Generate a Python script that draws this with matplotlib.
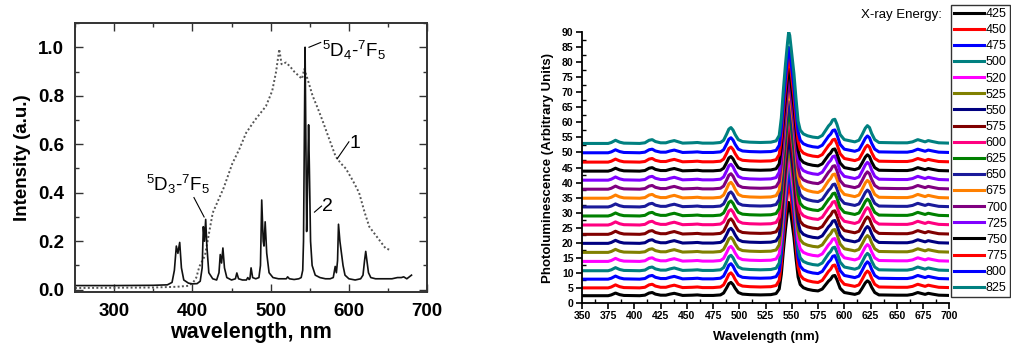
import matplotlib
matplotlib.use("Agg")
import matplotlib.pyplot as plt
import numpy as np
from matplotlib.ticker import MultipleLocator

plt.rcParams['font.family'] = ['Liberation Sans', 'DejaVu Sans']
plt.rcParams['mathtext.fontset'] = 'custom'
plt.rcParams['mathtext.rm'] = 'Liberation Sans'
plt.rcParams['mathtext.it'] = 'Liberation Sans'

# ---------------- Left panel data ----------------
wl_curve2 = [250, 300, 350, 368, 374, 377, 379.5, 381.5, 383.8, 386, 389, 395, 400, 406, 410, 412.5,
             414, 415.5, 417, 418.5, 421, 426, 431, 434, 435.6, 437.3, 439, 441, 444, 450, 455, 456.8,
             459, 464, 469, 470.8, 472.5, 473.5, 475, 477, 481, 485, 487, 488.6, 490.5, 491.5, 493,
             495, 498, 503, 510, 516, 520, 521.7, 524, 530, 536, 539, 541, 542, 543, 544, 546,
             547, 548.5, 549.5, 551, 553, 557, 563, 570, 576, 580, 582.5, 584, 585.5, 586.7, 588.5,
             590.5, 592.5, 595, 600, 608, 615, 618, 620, 621.5, 623, 625, 628, 634, 645, 655, 662,
             667, 670, 674, 680]
int_curve2 = [0.017, 0.017, 0.018, 0.02, 0.03, 0.08, 0.18, 0.15, 0.195, 0.09, 0.04, 0.027, 0.024, 0.025, 0.035, 0.09,
              0.26, 0.2, 0.29, 0.18, 0.07, 0.045, 0.04, 0.07, 0.145, 0.11, 0.172, 0.09, 0.05, 0.04, 0.045, 0.069,
              0.045, 0.04, 0.04, 0.05, 0.042, 0.045, 0.09, 0.05, 0.045, 0.05, 0.1, 0.37, 0.2, 0.18, 0.28,
              0.15, 0.07, 0.05, 0.045, 0.045, 0.045, 0.053, 0.045, 0.042, 0.045, 0.05, 0.08, 0.2, 0.6, 1.0, 0.24,
              0.4, 0.68, 0.5, 0.2, 0.1, 0.06, 0.05, 0.045, 0.045, 0.05, 0.096, 0.07, 0.12, 0.27, 0.2,
              0.15, 0.1, 0.06, 0.045, 0.04, 0.045, 0.06, 0.12, 0.158, 0.12, 0.07, 0.05, 0.045, 0.045, 0.045, 0.05,
              0.05, 0.053, 0.045, 0.06]

wl_curve1 = [250, 300, 350, 380, 395, 401, 405, 409, 416, 426, 440, 451, 460, 468.7, 480, 494, 502, 507,
             511, 514, 519.7, 525, 530, 536.6, 540, 543, 548, 553.6, 560, 566, 575, 583, 590, 596, 605,
             613, 620, 626, 633, 640, 647, 652]
int_curve1 = [0.007, 0.008, 0.009, 0.012, 0.016, 0.03, 0.05, 0.096, 0.14, 0.317, 0.42, 0.52, 0.58, 0.647, 0.70,
              0.757, 0.82, 0.90, 0.992, 0.93, 0.937, 0.92, 0.90, 0.88, 0.87, 0.91, 0.86, 0.80, 0.75, 0.70, 0.62,
              0.55, 0.52, 0.50, 0.45, 0.40, 0.32, 0.26, 0.23, 0.20, 0.17, 0.165]

# ---------------- Right panel data ----------------
energies = ['425', '450', '475', '500', '520', '525', '550', '575', '600', '625', '650', '675',
            '700', '725', '750', '775', '800', '825']
colors = ['#000000', '#ff0000', '#0000ff', '#008080', '#ff00ff', '#808000', '#000080', '#800000',
          '#ff0080', '#008000', '#1a1a9a', '#ff8000', '#800080', '#8000ff', '#000000', '#ff0000',
          '#0000ff', '#008080']
baselines = [2.4, 5.0, 7.9, 10.7, 13.8, 16.8, 19.8, 22.8, 25.9, 28.9, 31.9, 34.8, 37.8, 40.8,
             43.8, 46.8, 49.9, 53.0]
main_peak = [31, 35, 36, 36, 35, 35, 35, 36, 36, 35, 35, 37, 36, 37, 34, 35, 35, 37]

# typical spectrum shape (value above baseline), main peak = 35
profile_wl = [350, 375, 378, 382, 386, 390, 405, 410, 414, 417, 420, 425, 430, 434, 438, 442, 446,
              455, 460, 465, 475, 482, 485, 488, 490, 492, 494, 496, 499, 503, 510, 520, 530, 535,
              538, 540, 542, 544, 546, 547, 548, 550, 552, 554, 556, 558, 561, 565, 570, 575, 579,
              582, 585, 587, 589, 591, 593, 596, 600, 610, 614, 617, 620, 622, 624, 626, 629, 633,
              650, 660, 665, 670, 674, 677, 680, 684, 690, 700]
profile_val = [0.0, 0.0, 0.3, 1.0, 0.4, 0.1, 0.0, 0.2, 1.0, 1.2, 0.6, 0.2, 0.2, 0.6, 0.9, 0.5, 0.1,
               0.2, 0.3, 0.1, 0.1, 0.3, 1.0, 3.0, 4.5, 5.0, 4.2, 2.8, 1.2, 0.6, 0.4, 0.3, 0.4, 0.8,
               2.5, 8.0, 17.0, 25.0, 32.0, 35.0, 34.0, 28.0, 22.0, 14.0, 7.0, 4.2, 3.0, 2.4, 2.0, 1.8, 2.5,
               4.0, 5.5, 6.2, 7.4, 7.6, 6.0, 2.8, 1.2, 0.5, 1.0, 2.8, 4.8, 5.6, 5.0, 3.2, 1.2, 0.3,
               0.2, 0.2, 0.5, 1.2, 0.8, 0.5, 0.9, 0.6, 0.2, 0.1]

fig = plt.figure(figsize=(10.12, 3.49), dpi=100)

# ---------------- Left panel ----------------
ax1 = fig.add_axes([0.0741, 0.163, 0.348, 0.771])
ax1.plot(wl_curve1, int_curve1, color='#555555', lw=1.4, ls=(0, (1, 1.2)))
ax1.plot(wl_curve2, int_curve2, color='#111111', lw=1.2)
ax1.set_xlim(250, 700)
ax1.set_ylim(-0.01, 1.1)
ax1.xaxis.set_minor_locator(MultipleLocator(50))
ax1.yaxis.set_minor_locator(MultipleLocator(0.1))
ax1.set_xticks([300, 400, 500, 600, 700])
ax1.set_xticklabels(['300', '400', '500', '600', '700'], fontweight='bold', fontsize=13.5)
ax1.set_yticks([0.0, 0.2, 0.4, 0.6, 0.8, 1.0])
ax1.set_yticklabels(['0.0', '0.2', '0.4', '0.6', '0.8', '1.0'], fontweight='bold', fontsize=13.5)
ax1.tick_params(which='both', direction='in', top=True, right=True, width=1.0, color='#333333')
ax1.tick_params(which='major', length=6, pad=8)
ax1.tick_params(which='minor', length=3)
for s in ax1.spines.values():
    s.set_linewidth(1.4)
    s.set_color('#333333')
ax1.set_xlabel('wavelength, nm', fontsize=15.5, fontweight='bold', labelpad=1)
ax1.set_ylabel('Intensity (a.u.)', fontsize=13.5, fontweight='bold', labelpad=5)

ax1.text(341, 0.385, r'$^5$D$_3$-$^7$F$_5$', fontsize=13.5, ha='left', va='bottom')
ax1.plot([402, 415], [0.38, 0.30], color='black', lw=0.8)
ax1.text(566, 0.94, r'$^5$D$_4$-$^7$F$_5$', fontsize=13.5, ha='left', va='bottom')
ax1.plot([549, 564], [1.0, 1.02], color='black', lw=0.8)
ax1.text(601, 0.57, '1', fontsize=14, ha='left', va='bottom')
ax1.plot([585, 600], [0.54, 0.61], color='black', lw=0.8)
ax1.text(565, 0.31, '2', fontsize=14, ha='left', va='bottom')
ax1.plot([556, 565], [0.32, 0.345], color='black', lw=0.8)

# ---------------- Right panel ----------------
ax2 = fig.add_axes([0.575, 0.132, 0.363, 0.776])
pw = np.array(profile_wl, dtype=float)
pv = np.array(profile_val, dtype=float)
for e, c, b, h in zip(energies, colors, baselines, main_peak):
    ax2.plot(pw, b + pv * (h / 35.0), color=c, lw=2.2, label=e, solid_joinstyle='round')
ax2.set_xlim(350, 700)
ax2.set_ylim(0, 90)
ax2.xaxis.set_major_locator(MultipleLocator(25))
ax2.xaxis.set_minor_locator(MultipleLocator(12.5))
ax2.yaxis.set_major_locator(MultipleLocator(5))
ax2.yaxis.set_minor_locator(MultipleLocator(2.5))
ax2.spines['top'].set_visible(False)
ax2.spines['right'].set_visible(False)
for s in ['left', 'bottom']:
    ax2.spines[s].set_linewidth(1.3)
ax2.tick_params(which='major', direction='out', length=4, width=1.2, labelsize=7.5, pad=2)
ax2.tick_params(which='minor', direction='in', length=3, width=1.0)
for lab in ax2.get_xticklabels() + ax2.get_yticklabels():
    lab.set_fontweight('bold')
ax2.set_xlabel('Wavelength (nm)', fontsize=9.5, fontweight='bold', labelpad=7)
ax2.set_ylabel('Photoluminescence (Arbitrary Units)', fontsize=9.5, fontweight='bold', labelpad=6)

leg = ax2.legend(loc='upper right', bbox_to_anchor=(0.998, 0.986), bbox_transform=fig.transFigure,
                 fontsize=9, frameon=True, fancybox=False, handlelength=2.4, handletextpad=0.15,
                 labelspacing=0.33, borderpad=0.25, borderaxespad=0.0)
leg.get_frame().set_edgecolor('black')
leg.get_frame().set_linewidth(1.0)
for line in leg.get_lines():
    line.set_linewidth(2.2)
fig.text(0.931, 0.957, 'X-ray Energy:', fontsize=9.5, ha='right', va='center')

fig.savefig('out.png', dpi=100)
